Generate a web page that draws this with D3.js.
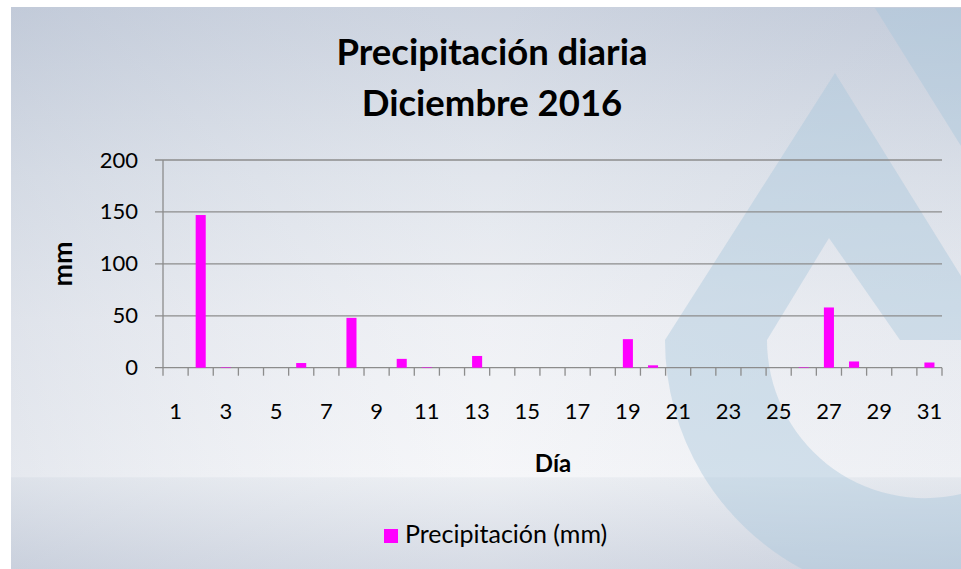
<!DOCTYPE html>
<html>
<head>
<meta charset="utf-8">
<script src="https://cdn.jsdelivr.net/npm/d3@7"></script>
<style>
  body { margin: 0; background: #fff; }
  text { font-family: Lato, "Open Sans", sans-serif; fill: #000; }
</style>
</head>
<body>
<svg id="chart" width="961" height="569"></svg>
<script>
var days = [1, 2, 3, 4, 5, 6, 7, 8, 9, 10, 11, 12, 13, 14, 15, 16,
            17, 18, 19, 20, 21, 22, 23, 24, 25, 26, 27, 28, 29, 30, 31];
var precip = [0, 147, 0.5, 0, 0, 4.5, 0, 48, 0, 8.5, 0.5, 0, 11.3, 0, 0, 0,
              0, 0, 27.5, 2.3, 0, 0, 0, 0, 0, 0.5, 58, 6, 0, 0, 5];
var dayLabels = [1, 3, 5, 7, 9, 11, 13, 15, 17, 19, 21, 23, 25, 27, 29, 31];
var yTicks = [0, 50, 100, 150, 200];
var titleLines = ['Precipitación diaria', 'Diciembre 2016'];
var seriesName = 'Precipitación (mm)';

var svg = d3.select('#chart');
var defs = svg.append('defs');

var bg = defs.append('linearGradient')
  .attr('id', 'bg')
  .attr('x1', 0).attr('y1', 0).attr('x2', 0).attr('y2', 1);
[['0%', '#c5cddb'], ['30%', '#dde2ea'], ['55%', '#eceef3'], ['82.4%', '#f4f5f8'],
 ['82.6%', '#e9ecf1'], ['100%', '#cdd3df']].forEach(function(s) {
  bg.append('stop').attr('offset', s[0]).attr('stop-color', s[1]);
});

var side = defs.append('linearGradient')
  .attr('id', 'side')
  .attr('x1', 0).attr('y1', 0).attr('x2', 1).attr('y2', 0);
side.append('stop').attr('offset', '0%').attr('stop-color', '#b8c2d2').attr('stop-opacity', 0.25);
side.append('stop').attr('offset', '50%').attr('stop-color', '#ffffff').attr('stop-opacity', 0.15);
side.append('stop').attr('offset', '100%').attr('stop-color', '#b8c2d2').attr('stop-opacity', 0.1);

// chart frame
svg.append('rect')
  .attr('x', 11).attr('y', 7).attr('width', 960).attr('height', 570)
  .attr('fill', 'url(#bg)');
svg.append('rect')
  .attr('x', 11).attr('y', 7).attr('width', 960).attr('height', 570)
  .attr('fill', 'url(#side)');

// watermark drop (background logo)
var mark = svg.append('g').attr('fill', '#a6c6dc').attr('fill-opacity', 0.42);
mark.append('path')
  .attr('fill-rule', 'evenodd')
  .attr('d',
    'M835,73 L961,276 L961,569 L802,569 A260,260 0 0 1 665,340 Z ' +
    'M829,238 L767,340 A158,158 0 0 0 961,494 L961,340 L900,340 Z');
mark.append('path')
  .attr('d', 'M875,8 L961,8 L961,146 Z');

var x = d3.scaleBand().domain(days).range([163, 942]);
var y = d3.scaleLinear().domain([0, 200]).range([367.7, 160]);
var barW = x.bandwidth() / 2.5;

// gridlines
svg.append('g')
  .selectAll('line')
  .data(yTicks)
  .enter().append('line')
  .attr('x1', 155).attr('x2', 942)
  .attr('y1', function(d) { return y(d); })
  .attr('y2', function(d) { return y(d); })
  .attr('stroke', '#8c8c8c')
  .attr('stroke-width', 1.3);

// y axis line
svg.append('line')
  .attr('x1', 163).attr('x2', 163)
  .attr('y1', y(200)).attr('y2', y(0))
  .attr('stroke', '#8c8c8c').attr('stroke-width', 1.3);

// category boundary ticks
svg.append('g')
  .selectAll('line')
  .data(days.concat(['end']))
  .enter().append('line')
  .attr('x1', function(d) { return d === 'end' ? x.range()[1] : x(d); })
  .attr('x2', function(d) { return d === 'end' ? x.range()[1] : x(d); })
  .attr('y1', y(0)).attr('y2', y(0) + 8)
  .attr('stroke', '#8c8c8c').attr('stroke-width', 1.3);

// bars
svg.append('g')
  .selectAll('rect')
  .data(days)
  .enter().append('rect')
  .attr('x', function(d) { return x(d) + (x.bandwidth() - barW) / 2; })
  .attr('width', barW)
  .attr('y', function(d, i) { return y(precip[i]); })
  .attr('height', function(d, i) { return y(0) - y(precip[i]); })
  .attr('fill', '#ff00ff');

// axis labels
var yAxis = d3.axisLeft(y).tickValues(yTicks).tickSize(0).tickPadding(25);
svg.append('g')
  .attr('transform', 'translate(163,0)')
  .call(yAxis)
  .call(function(g) { g.select('.domain').remove(); })
  .selectAll('text')
  .style('font-family', 'Lato, sans-serif')
  .style('font-size', '22px')
  .attr('fill', '#000');

var xAxis = d3.axisBottom(x).tickValues(dayLabels).tickSize(0).tickPadding(0);
svg.append('g')
  .attr('transform', 'translate(0,' + y(0) + ')')
  .call(xAxis)
  .call(function(g) { g.select('.domain').remove(); })
  .selectAll('text')
  .attr('dy', null)
  .attr('y', 51)
  .style('font-family', 'Lato, sans-serif')
  .style('font-size', '22px')
  .attr('fill', '#000');

// title
svg.append('g')
  .selectAll('text')
  .data(titleLines)
  .enter().append('text')
  .attr('x', 492)
  .attr('y', function(d, i) { return 65 + i * 51; })
  .attr('text-anchor', 'middle')
  .style('font-size', '36.5px')
  .style('font-weight', 'bold')
  .text(function(d) { return d; });

svg.append('text')
  .attr('transform', 'translate(72,264) rotate(-90)')
  .attr('text-anchor', 'middle')
  .style('font-size', '27px')
  .style('font-weight', 'bold')
  .text('mm');

svg.append('text')
  .attr('x', 553).attr('y', 472)
  .attr('text-anchor', 'middle')
  .style('font-size', '24px')
  .style('font-weight', 'bold')
  .text('Día');

// legend
var legend = svg.append('g').attr('transform', 'translate(384,529)');
legend.append('rect')
  .attr('width', 14).attr('height', 14)
  .attr('fill', '#ff00ff');
legend.append('text')
  .attr('x', 21).attr('y', 14)
  .style('font-size', '25px')
  .text(seriesName);
</script>
</body>
</html>
